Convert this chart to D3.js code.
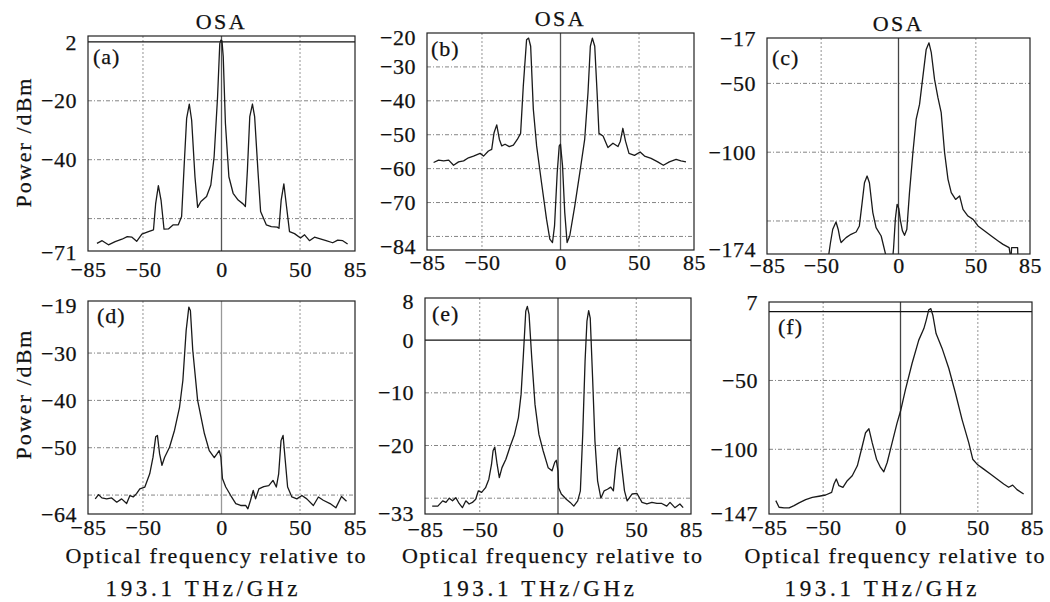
<!DOCTYPE html>
<html>
<head>
<meta charset="utf-8">
<script src="https://cdn.jsdelivr.net/npm/d3@7"></script>
<style>
  body { margin: 0; background: #fff; }
  text { font-family: "Liberation Serif", "Times New Roman", serif; fill: #111; stroke: #111; stroke-width: 0.25px; }
</style>
</head>
<body>
<script>
// Spectra: [frequency offset (GHz), power (dBm)]
const traceA = [[-79.3,-68.4],[-76,-67.5],[-72,-68.9],[-67.7,-67.8],[-63.4,-67],[-60,-66.1],[-57,-66.3],[-54,-67.7],[-50.7,-65.3],[-46.5,-64.4],[-43.3,-63.8],[-41.9,-54.8],[-40.2,-48.8],[-38.5,-53.7],[-36.6,-63.6],[-33.8,-63.5],[-30.7,-62.1],[-27.5,-62.1],[-25.4,-59.3],[-23.7,-41.2],[-22.2,-26],[-20.5,-21.1],[-19,-26.6],[-16.9,-45.8],[-15.2,-56.2],[-13.1,-54.2],[-9.5,-52.5],[-6.8,-48.6],[-4.7,-39],[-2.5,-18.6],[-1.1,-0.6],[-0.4,0.6],[0.3,0.4],[1.1,-5],[2.5,-27.7],[4.7,-45.8],[7.4,-51.4],[10.6,-53.7],[13.7,-55],[15.2,-55.9],[16.5,-43.5],[18,-25.4],[19.7,-21.1],[21.1,-25.4],[23.3,-44.6],[24.9,-57.6],[28.5,-62.1],[31.7,-62.7],[35.5,-62.9],[36.6,-63.3],[38,-53.7],[39.7,-48.2],[41.4,-55.9],[43.3,-64.4],[46.5,-65.1],[50.3,-66.6],[52.9,-65.5],[56,-67.5],[59.2,-66.3],[63.4,-67],[66.6,-67.5],[70.8,-68.2],[74,-67.3],[77.2,-67.5],[80.3,-68.6]];

const traceB = [[-80.8,-58.2],[-77.6,-57.5],[-74.4,-57.7],[-71.2,-57.5],[-68.1,-59],[-64.9,-58],[-61.7,-57.7],[-58.6,-56.8],[-55.4,-56.3],[-51.2,-55.5],[-49,-56.3],[-45.9,-54.8],[-43.8,-54.3],[-42.3,-49.4],[-40.6,-47.1],[-38.9,-51.4],[-37.4,-53.3],[-35.3,-52.8],[-32.6,-53.5],[-30,-53.1],[-27.5,-51.4],[-25.4,-49.6],[-23.7,-35.7],[-21.6,-22],[-20.3,-21.5],[-19,-23.9],[-17.3,-42.5],[-15.2,-53.3],[-12.1,-64.1],[-8.9,-74.9],[-6.8,-80.8],[-5.1,-81.8],[-3.8,-76.9],[-2.1,-61.2],[-0.8,-53.3],[0,-52.8],[1.3,-59.2],[2.7,-72.9],[4.2,-81.8],[5.9,-79.8],[9.1,-71],[12.3,-61.2],[15.4,-51.4],[17.5,-37.6],[19,-23.9],[20.3,-21.5],[21.8,-23.9],[23.3,-37.6],[24.5,-49.6],[27.1,-50.4],[30.2,-53.8],[33.4,-52.5],[36.6,-53.5],[38.1,-51.9],[39.7,-48.1],[41.4,-51.9],[43.6,-55.5],[47.1,-56.1],[50.7,-55.1],[53.5,-56.3],[57.7,-57],[61.9,-58],[65.5,-59],[69.3,-58],[73.6,-57.3],[76.7,-57.7],[79.9,-58]];

const traceC = [[-45.8,-180],[-44,-166],[-42.5,-156],[-40.4,-150.7],[-39,-156],[-37.8,-163],[-37.1,-165.7],[-33.9,-162.1],[-30.7,-159.7],[-27.4,-158],[-25.3,-153.6],[-23.5,-136.7],[-22,-122.2],[-20.3,-117.3],[-18.8,-122.2],[-16.6,-143.9],[-14.5,-154.8],[-11.2,-160.9],[-8.4,-174],[-7.8,-180],[-4,-180],[-3.2,-170],[-2,-148],[-0.9,-137.9],[0.2,-141],[1.1,-148.8],[2.5,-157],[3.9,-160.4],[5.4,-156],[7.1,-129.4],[9.3,-100.4],[11.4,-76.2],[13.6,-65.3],[15.8,-44.7],[17.9,-25.3],[19.7,-20.5],[21.2,-27.7],[23.3,-47.1],[25.5,-60.4],[27.6,-71.3],[29.8,-100.4],[32,-119.7],[34.1,-129.4],[36.9,-134.3],[39.5,-131.8],[41.7,-141.5],[44.9,-146.4],[48.2,-148.8],[51.4,-153.6],[55.7,-157.3],[60,-160.9],[64.4,-164.5],[67.6,-167],[71.5,-169.4],[72.7,-178],[73.1,-169.4],[77,-169.4],[77.3,-180]];

const traceD = [[-80.4,-60.8],[-78.3,-59.9],[-76.2,-60.6],[-73.1,-60.8],[-69.9,-60.6],[-66.7,-61.5],[-63.6,-60.8],[-60.4,-61.8],[-58.3,-60.1],[-56.2,-60.4],[-54.1,-59.7],[-52,-58.7],[-48.8,-58.3],[-45.7,-55.5],[-43.6,-52],[-41.9,-47.7],[-40.8,-47.4],[-39.4,-51.3],[-37.9,-53.7],[-36.2,-52],[-33.1,-49.9],[-29.9,-46.3],[-26.7,-41.4],[-24.6,-35.8],[-22.5,-25.2],[-20.8,-20.3],[-19.8,-21],[-18.3,-29.4],[-15.2,-40],[-10.9,-47],[-7.8,-50.6],[-4.6,-52.1],[-2.9,-51.3],[-1.5,-50.6],[-0.4,-52],[0.6,-56.5],[2.7,-58.3],[5.9,-60.1],[9.1,-61.8],[12.2,-62.2],[15.4,-62.2],[16.8,-62.9],[18.5,-61.1],[20.2,-59],[21.7,-60.8],[23.8,-58.7],[26.9,-58.2],[30.1,-58],[32.8,-56.9],[34.9,-58.3],[36.4,-55.5],[37.9,-48.5],[39.2,-47.4],[40.6,-52.7],[42.1,-58.3],[44.8,-60.4],[48,-60.8],[51.2,-60.1],[54.3,-60.8],[58.5,-62.2],[61.7,-60.4],[64.8,-61.1],[69.1,-61.8],[72.8,-62.7],[76.4,-60.3],[79.6,-61.3]];

const traceE = [[-80.4,-31.5],[-76.8,-31.5],[-73.7,-30.5],[-71.6,-30.8],[-69.5,-30],[-67.4,-30.5],[-65.3,-29.9],[-63.2,-31],[-61.1,-31.8],[-58.9,-30.5],[-56.8,-31.1],[-54.7,-30.8],[-52.6,-30.2],[-50.9,-28.6],[-48.8,-28.9],[-46.3,-28],[-44.2,-26.4],[-42.5,-23.6],[-41.5,-21],[-40.4,-20.3],[-38.9,-23.6],[-37.5,-26.1],[-35.8,-24.2],[-33.3,-22.6],[-30.5,-20.1],[-27.8,-17.9],[-25.3,-14.7],[-23.6,-10.3],[-22.1,-2.7],[-20.6,5.5],[-19.6,6.4],[-18.5,4.9],[-16.8,-3.3],[-14.7,-12.2],[-12.2,-17.9],[-9.5,-21],[-6.3,-24.2],[-3.8,-24.8],[-2.1,-23.2],[-1.1,-22.8],[0,-24.8],[0.4,-28],[2.1,-29.2],[5.3,-30.2],[7.8,-30.8],[10.1,-31.5],[12.6,-30.5],[14.3,-28.6],[15.8,-17.9],[17.3,-4],[18.5,3.6],[19.6,5.6],[20.6,4.2],[22.1,-7.1],[23.6,-19.1],[25.3,-26.7],[27.4,-30],[29.5,-28.6],[31.6,-28.3],[33.7,-27.9],[35.4,-28.6],[36.8,-24.2],[38.3,-20.7],[39.4,-20.4],[40.8,-24.2],[42.5,-28.6],[44.2,-30.5],[47.4,-29.2],[50.5,-29.1],[53.7,-30.8],[56.8,-31.1],[60,-30.8],[63.2,-31],[66.3,-31],[69.5,-31.5],[71.6,-30.8],[74.7,-31.8],[77.9,-31.1],[80,-31.8]];

const traceF = [[-80.6,-137.3],[-78.5,-142.1],[-75.3,-142.5],[-72,-142.5],[-68.8,-140.9],[-65.6,-138.9],[-61.3,-136.5],[-57,-134.9],[-52.7,-134.1],[-48.4,-133.2],[-44.5,-131.3],[-43,-125.2],[-41.5,-121.6],[-39.8,-126.4],[-37.2,-127.6],[-34.4,-122.8],[-31.2,-119.2],[-27.9,-112],[-24.7,-97.6],[-22.6,-88],[-20.4,-85.1],[-18.3,-95.2],[-15.5,-107.2],[-12.9,-113.2],[-10.8,-116.3],[-8.6,-109.6],[-5.4,-95.2],[-2.2,-80.8],[0,-72.4],[3.2,-56.7],[7.5,-37.5],[11.8,-20.7],[15.1,-12.3],[16.6,-6.3],[18.3,1.4],[19.6,2.2],[20.9,-2.6],[23,-15.9],[26.9,-26.7],[31.2,-41.1],[35.5,-59.1],[39.8,-78.4],[44.1,-95.2],[46.7,-107.2],[49.5,-110.8],[53.8,-114.4],[58.1,-118],[62.4,-121.6],[66.7,-125.2],[69.9,-127.6],[72.5,-126],[75.3,-129.3],[79.6,-132.5]];

// axis values
const xDomain = [-85, 85];
const xTicks = [-85, -50, 0, 50, 85];
const xGrid = [-50, 50];
const panelNames = ["(a)", "(b)", "(c)", "(d)", "(e)", "(f)"];
const yDomains = [[-71, 2], [-84, -20], [-174, -17], [-64, -19], [-33, 8], [-147, 7]];
const yTickLabels = [[2, -20, -40, -71], [-20, -30, -40, -50, -60, -70, -84], [-17, -50, -100, -174],
                     [-19, -30, -40, -50, -64], [8, 0, -10, -20, -33], [7, -50, -100, -147]];
const yGrid = [[-20, -40, -60], [-30, -40, -50, -60, -70, -80], [-50, -100, -150],
               [-30, -40, -50, -60], [-10, -20, -30], [-50, -100]];
const traces = [traceA, traceB, traceC, traceD, traceE, traceF];

// panel boxes in page pixels, plus small label nudges
const layout = [
  { x: 88,  y: 36,  w: 267, h: 215, lx: 5, ly: 28, xpad: 10, topDy: 6, botDy: 1,  zc: "#555", title: true, ylab: 143 },
  { x: 427, y: 33,  w: 267, h: 217, lx: 4, ly: 23, xpad: 4,  topDy: 4, botDy: -4, zc: "#555", title: true },
  { x: 767, y: 38,  w: 263, h: 216, lx: 5, ly: 27, xpad: 3,  topDy: 0, botDy: -5, zc: "#444", title: true },
  { x: 88,  y: 301, w: 267, h: 213, lx: 9, ly: 22, xpad: 5,  topDy: 4, botDy: 0,  zc: "#999", xlab: true, ylab: 395 },
  { x: 425, y: 298, w: 266, h: 216, lx: 7, ly: 23, xpad: 7,  topDy: 3, botDy: -1, zc: "#444", xlab: true },
  { x: 769, y: 302, w: 263, h: 212, lx: 9, ly: 32, xpad: 5,  topDy: 0, botDy: -1, zc: "#444", xlab: true }
];

const svg = d3.select("body").append("svg")
    .attr("width", 1050)
    .attr("height", 602);

const fmt = d3.format("d");
const serif = '"Liberation Serif", "Times New Roman", serif';

layout.forEach((L, i) => {
  const g = svg.append("g").attr("transform", `translate(${L.x},${L.y})`);
  const x = d3.scaleLinear().domain(xDomain).range([0, L.w]);
  const y = d3.scaleLinear().domain(yDomains[i]).range([L.h, 0]);

  g.append("clipPath").attr("id", "clip" + i)
    .append("rect").attr("width", L.w).attr("height", L.h);

  // dash-dot grid
  g.selectAll(".hgrid").data(yGrid[i]).enter().append("line")
    .attr("x1", 0).attr("x2", L.w)
    .attr("y1", d => y(d)).attr("y2", d => y(d))
    .attr("stroke", "#777").attr("stroke-width", 0.9)
    .attr("stroke-dasharray", "4,2,1,2");
  g.selectAll(".vgrid").data(xGrid).enter().append("line")
    .attr("x1", d => x(d)).attr("x2", d => x(d))
    .attr("y1", 0).attr("y2", L.h)
    .attr("stroke", "#888").attr("stroke-width", 0.9)
    .attr("stroke-dasharray", "2,2");

  // zero lines
  g.append("line")
    .attr("x1", x(0)).attr("x2", x(0)).attr("y1", 0).attr("y2", L.h)
    .attr("stroke", L.zc).attr("stroke-width", 1.3);
  const [y0, y1] = yDomains[i];
  if (0 > y0 && 0 < y1) {
    g.append("line")
      .attr("x1", 0).attr("x2", L.w).attr("y1", y(0)).attr("y2", y(0))
      .attr("stroke", "#111").attr("stroke-width", 1.2);
  }

  // spectrum
  const line = d3.line().x(d => x(d[0])).y(d => y(d[1]));
  g.append("path")
    .datum(traces[i])
    .attr("clip-path", `url(#clip${i})`)
    .attr("fill", "none")
    .attr("stroke", "#1a1a1a")
    .attr("stroke-width", 1.3)
    .attr("stroke-linejoin", "round")
    .attr("d", line);

  // frame
  g.append("rect")
    .attr("width", L.w).attr("height", L.h)
    .attr("fill", "none").attr("stroke", "#222").attr("stroke-width", 1.2);

  // axes (labels only, no tick marks)
  const xa = g.append("g").attr("transform", `translate(0,${L.h})`)
    .call(d3.axisBottom(x).tickValues(xTicks).tickSize(0).tickPadding(L.xpad).tickFormat(fmt));
  const ya = g.append("g")
    .call(d3.axisLeft(y).tickValues(yTickLabels[i]).tickSize(0).tickPadding(11).tickFormat(fmt));
  [xa, ya].forEach(a => {
    a.attr("font-family", null).attr("font-size", null);
    a.select(".domain").remove();
    a.selectAll("text")
      .style("font-family", serif)
      .style("font-size", "22px")
      .style("letter-spacing", "0.5px")
      .attr("fill", "#111");
  });
  // nudge first and last y labels like the original figure
  const n = yTickLabels[i].length;
  ya.selectAll(".tick text")
    .attr("transform", (d, k) => k === 0 ? `translate(0,${L.topDy})` : k === n - 1 ? `translate(0,${L.botDy})` : null);

  g.append("text")
    .attr("x", L.lx).attr("y", L.ly)
    .style("font-size", "22px").style("letter-spacing", "1px")
    .text(panelNames[i]);

  if (L.title) {
    g.append("text")
      .attr("x", x(0)).attr("y", -7)
      .attr("text-anchor", "middle")
      .style("font-size", "22px").style("letter-spacing", "2.5px")
      .text("OSA");
  }

  if (L.ylab) {
    svg.append("text")
      .attr("transform", `translate(31,${L.ylab}) rotate(-90)`)
      .attr("text-anchor", "middle")
      .attr("textLength", 129).attr("lengthAdjust", "spacing")
      .style("font-size", "22px")
      .text("Power /dBm");
  }

  if (L.xlab) {
    g.append("text")
      .attr("x", L.w / 2 - 6).attr("y", 563 - L.y)
      .attr("text-anchor", "middle")
      .attr("textLength", 300).attr("lengthAdjust", "spacing")
      .style("font-size", "22px")
      .text("Optical frequency relative to");
    g.append("text")
      .attr("x", L.w / 2 - 20).attr("y", 596 - L.y)
      .attr("text-anchor", "middle")
      .attr("textLength", 192).attr("lengthAdjust", "spacing")
      .style("font-size", "23px")
      .text("193.1 THz/GHz");
  }
});
</script>
</body>
</html>
